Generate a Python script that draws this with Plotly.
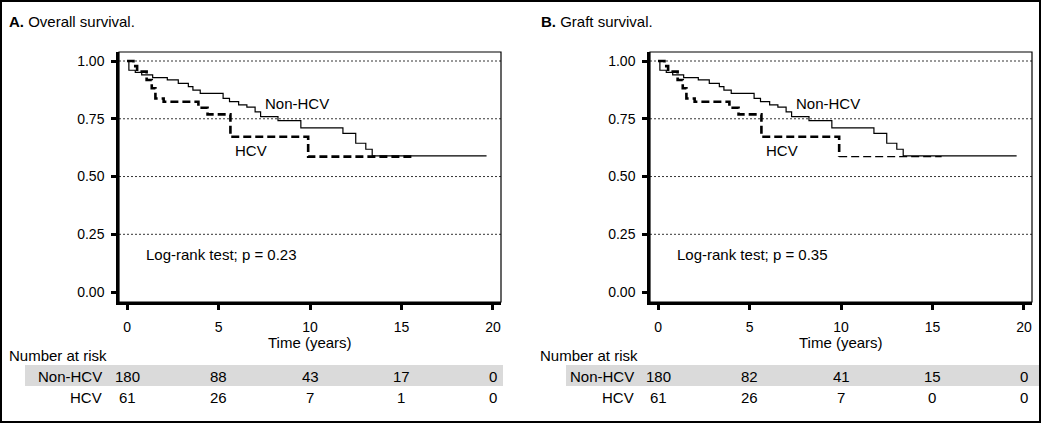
import plotly.graph_objects as go

# Kaplan-Meier step points (time in years, survival)
a_non_t = [0, 0.1, 0.45, 0.8, 1.4, 2.2, 2.8, 3.35, 3.6, 4.0, 5.25, 5.6, 6.1, 6.55, 7.0, 7.3, 8.25, 9.5, 11.8, 12.5, 13.05, 13.4, 19.65]
a_non_s = [1.0, 0.96, 0.951, 0.94, 0.928, 0.918, 0.903, 0.889, 0.874, 0.86, 0.838, 0.824, 0.81, 0.80, 0.78, 0.759, 0.742, 0.711, 0.687, 0.644, 0.618, 0.589, 0.589]
a_hcv_t = [0, 0.35, 0.55, 1.07, 1.35, 1.55, 2.0, 3.9, 4.4, 5.65, 9.9, 15.55]
a_hcv_s = [1.0, 0.978, 0.954, 0.918, 0.882, 0.838, 0.824, 0.798, 0.769, 0.672, 0.586, 0.586]

b_non_t = [0, 0.1, 0.45, 0.8, 1.4, 2.2, 2.8, 3.35, 3.6, 4.0, 5.25, 5.6, 6.1, 6.55, 7.0, 7.3, 8.25, 9.5, 11.8, 12.5, 13.05, 13.4, 19.6]
b_non_s = [1.0, 0.96, 0.951, 0.94, 0.928, 0.918, 0.903, 0.889, 0.874, 0.86, 0.838, 0.824, 0.81, 0.80, 0.78, 0.759, 0.742, 0.711, 0.687, 0.644, 0.618, 0.589, 0.589]
b_hcv_t = [0, 0.35, 0.55, 1.07, 1.35, 1.55, 2.0, 3.9, 4.4, 5.65, 9.9]
b_hcv_s = [1.0, 0.978, 0.954, 0.918, 0.882, 0.838, 0.824, 0.798, 0.769, 0.672, 0.586]
b_hcv_tail_t = [9.9, 15.5]
b_hcv_tail_s = [0.586, 0.586]

risk_times = [0, 5, 10, 15, 20]
a_risk_non = [180, 88, 43, 17, 0]
a_risk_hcv = [61, 26, 7, 1, 0]
b_risk_non = [180, 82, 41, 15, 0]
b_risk_hcv = [61, 26, 7, 0, 0]

y_ticks = [0, 0.25, 0.5, 0.75, 1.0]
y_labels = ["0.00", "0.25", "0.50", "0.75", "1.00"]

FONT = "Liberation Sans Narrow, Arial Narrow, Liberation Sans, sans-serif"
W, H = 1044, 424

fig = go.Figure()

# curves
fig.add_trace(go.Scatter(x=a_non_t, y=a_non_s, mode="lines", line_shape="hv",
                         line=dict(color="black", width=1.2), xaxis="x", yaxis="y"))
fig.add_trace(go.Scatter(x=a_hcv_t, y=a_hcv_s, mode="lines", line_shape="hv",
                         line=dict(color="black", width=2.6, dash="8px,4px"), xaxis="x", yaxis="y"))
fig.add_trace(go.Scatter(x=b_non_t, y=b_non_s, mode="lines", line_shape="hv",
                         line=dict(color="black", width=1.2), xaxis="x2", yaxis="y2"))
fig.add_trace(go.Scatter(x=b_hcv_t, y=b_hcv_s, mode="lines", line_shape="hv",
                         line=dict(color="black", width=2.6, dash="8px,4px"), xaxis="x2", yaxis="y2"))
fig.add_trace(go.Scatter(x=b_hcv_tail_t, y=b_hcv_tail_s, mode="lines", line_shape="hv",
                         line=dict(color="black", width=1.3, dash="8px,4px"), xaxis="x2", yaxis="y2"))

xax = dict(range=[-0.44, 20.44], tickvals=risk_times, ticks="outside", ticklen=5, tickwidth=2.5,
           tickcolor="black", showline=True, linewidth=2.5, linecolor="black", showgrid=False,
           zeroline=False, tickfont=dict(family=FONT, size=14, color="black"), ticklabelstandoff=5)
yax = dict(range=[-0.043, 1.039], tickvals=y_ticks, ticktext=y_labels, ticks="outside", ticklen=5,
           tickwidth=2.5, tickcolor="black", showline=True, linewidth=2.5, linecolor="black",
           showgrid=False, zeroline=False, tickfont=dict(family=FONT, size=14, color="black"),
           ticklabelstandoff=4, domain=[1 - 302 / H, 1 - 52 / H])

fig.update_layout(
    width=W, height=H, margin=dict(l=0, r=0, t=0, b=0),
    paper_bgcolor="white", plot_bgcolor="white", showlegend=False,
    xaxis=dict(xax, domain=[119 / W, 501 / W], anchor="y"),
    yaxis=dict(yax, anchor="x"),
    xaxis2=dict(xax, domain=[650 / W, 1032 / W], anchor="y2"),
    yaxis2=dict(yax, anchor="x2"),
)

shapes = []
annotations = []


def txt(x, y, s, xref="paper", yref="paper", xanchor="left", size=15, **kw):
    annotations.append(dict(x=x, y=y, xref=xref, yref=yref, text=s, showarrow=False,
                            xanchor=xanchor, yanchor="middle",
                            font=dict(family=FONT, size=size, color="black"), **kw))


panels = [
    ("x", "y", "<b>A.</b> Overall survival.", 7, "Log-rank test; p = 0.23", a_risk_non, a_risk_hcv, 0, 25, 503, 104),
    ("x2", "y2", "<b>B.</b> Graft survival.", 539, "Log-rank test; p = 0.35", b_risk_non, b_risk_hcv, 531, 566, 1040, 636),
]

for xa, ya, title, tx, logrank, rnon, rhcv, dx, band0, band1, lab_r in panels:
    # thin top/right frame and dotted grid
    shapes.append(dict(type="rect", xref=xa + " domain", yref=ya + " domain", x0=0, x1=1, y0=0, y1=1,
                       line=dict(color="black", width=1.2), layer="below"))
    for g in y_ticks[1:]:
        shapes.append(dict(type="line", xref=xa + " domain", yref=ya, x0=0, x1=1, y0=g, y1=g,
                           line=dict(color="black", width=0.8, dash="2px,2px"), layer="below"))
    # number at risk band
    shapes.append(dict(type="rect", xref="paper", yref="paper", x0=band0 / W, x1=band1 / W,
                       y0=1 - 386 / H, y1=1 - 365 / H, fillcolor="#dadada", line=dict(width=0),
                       layer="below"))

    txt(tx / W, 1 - 21 / H, title, size=15)
    txt((310 + dx) / W, 1 - 342 / H, "Time (years)", xanchor="center")
    txt((144 + dx) / W, 1 - 254 / H, logrank)
    txt((263 + dx) / W, 1 - 104 / H, "Non-HCV")
    txt((233 + dx) / W, 1 - 150 / H, "HCV")
    txt((7 + dx) / W, 1 - 355 / H, "Number at risk")
    txt(lab_r / W, 1 - 376 / H, "Non-HCV", xanchor="right")
    txt(lab_r / W, 1 - 397 / H, "HCV", xanchor="right")
    for t, n1, n2 in zip(risk_times, rnon, rhcv):
        txt(t, 1 - 376 / H, str(n1), xref=xa, xanchor="center")
        txt(t, 1 - 397 / H, str(n2), xref=xa, xanchor="center")

# outer border
shapes.append(dict(type="rect", xref="paper", yref="paper", x0=1 / W, x1=1040 / W,
                   y0=1 - 422 / H, y1=1 - 1 / H, line=dict(color="black", width=2)))

fig.update_layout(shapes=shapes, annotations=annotations)

fig.write_html("out.html", config={"displayModeBar": False},
               post_script="document.body.style.margin='0';")
